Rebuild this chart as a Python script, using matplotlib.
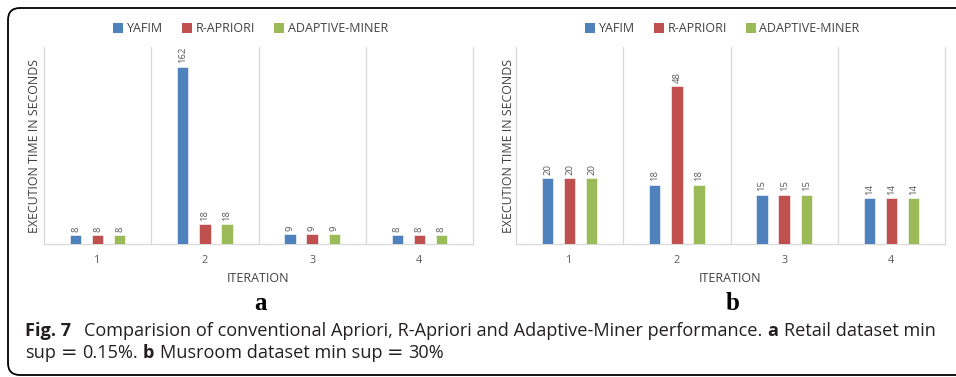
import numpy as np
import matplotlib.pyplot as plt
from matplotlib.patches import Patch, PathPatch
from matplotlib.path import Path

# ── Data ──────────────────────────────────────────────────────────────────────
ITERATIONS = ["1", "2", "3", "4"]
SERIES     = ["YAFIM", "R-APRIORI", "ADAPTIVE-MINER"]

retail_yafim    = [8, 162, 9, 8]
retail_rapriori = [8, 18, 9, 8]
retail_adaptive = [8, 18, 9, 8]

mush_yafim    = [20, 18, 15, 14]
mush_rapriori = [20, 48, 15, 14]
mush_adaptive = [20, 18, 15, 14]

# ── Styling ───────────────────────────────────────────────────────────────────
COLORS   = ["#4f81bd", "#c0504d", "#9bbb59"]
GRID     = "#d9d9d9"
TXT      = "#595959"
CAPTION  = "#231f20"
FONT     = "Open Sans"
W, H     = 956, 377

plt.rcParams["font.family"] = [FONT, "DejaVu Sans"]

fig = plt.figure(figsize=(W / 100, H / 100), dpi=100)
fig.patch.set_facecolor("white")


def draw_panel(left_px, values, ymax, letter, ylab_x):
    # axes box in pixels: 429 wide, from y=47 to y=244 (top-down)
    ax = fig.add_axes([left_px / W, (H - 244) / H, 429 / W, 197 / H])
    x = np.arange(len(ITERATIONS))
    width, step = 0.105, 0.206
    for i, (vals, col) in enumerate(zip(values, COLORS)):
        bars = ax.bar(x + (i - 1) * step, vals, width=width, color=col,
                      edgecolor="white", linewidth=0.4, zorder=3)
        for b, v in zip(bars, vals):
            ax.annotate(f"{v}", (b.get_x() + b.get_width() / 2, b.get_height()),
                        xytext=(0, 2.5), textcoords="offset points",
                        rotation=90, ha="center", va="bottom",
                        fontsize=6.8, color=TXT)
    ax.set_xlim(-0.5, len(ITERATIONS) - 0.5)
    ax.set_ylim(0, ymax)
    for g in np.arange(-0.5, len(ITERATIONS), 1.0):
        ax.axvline(g, color=GRID, linewidth=0.9, zorder=1, clip_on=False)
    for s in ["top", "left", "right"]:
        ax.spines[s].set_visible(False)
    ax.spines["bottom"].set_color(GRID)
    ax.spines["bottom"].set_linewidth(0.9)
    ax.set_yticks([])
    ax.set_xticks(x)
    ax.set_xticklabels(ITERATIONS)
    ax.tick_params(axis="x", length=0, pad=8, labelsize=7.8, labelcolor=TXT)
    ax.set_facecolor("none")

    cx = (left_px + 214.5) / W
    fig.text(cx, 1 - 282 / H, "ITERATION", ha="center", va="baseline",
             fontsize=9, color="#404040")
    fig.text(ylab_x / W, 1 - 146 / H, "EXECUTION TIME IN SECONDS",
             rotation=90, ha="center", va="center", fontsize=8.9, color="#404040")
    fig.text(cx + 2 / W, 1 - 310 / H, letter, ha="center", va="baseline",
             fontsize=18, fontweight="bold", family="Liberation Serif", color="black")

    handles = [Patch(facecolor=c, edgecolor="none") for c in COLORS]
    fig.legend(handles, SERIES, loc="center", bbox_to_anchor=(cx - 8 / W, 1 - 29 / H),
               ncol=3, frameon=False, fontsize=9.0, handlelength=0.8,
               handleheight=0.8, handletextpad=0.3, columnspacing=1.5,
               labelcolor="#404040")
    return ax


draw_panel(44, [retail_yafim, retail_rapriori, retail_adaptive], 180, "a", 35)
draw_panel(516, [mush_yafim, mush_rapriori, mush_adaptive], 60, "b", 508)

# ── Rounded frame, open on the right (source figure is cropped there) ────────
L, T, B, R = 8, 8, 375, 12          # left, top, bottom (image px), corner radius
verts = [(W, T), (L + R, T), (L, T), (L, T + R), (L, B - R),
         (L, B), (L + R, B), (W, B)]
codes = [Path.MOVETO, Path.LINETO, Path.CURVE3, Path.CURVE3, Path.LINETO,
         Path.CURVE3, Path.CURVE3, Path.LINETO]
verts = [(vx / W, 1 - vy / H) for vx, vy in verts]
fig.patches.append(PathPatch(Path(verts, codes), transform=fig.transFigure,
                             facecolor="none", edgecolor="black", linewidth=1.3,
                             fill=False, figure=fig))

# ── Caption with mixed bold / regular runs ───────────────────────────────────
renderer = fig.canvas.get_renderer()
CAP_SIZE = 13.1


def caption_line(y_px, runs):
    x = 25
    for txt, bold, gap, *extra in runs:
        kw = extra[0] if extra else {}
        t = fig.text(x / W, 1 - y_px / H, txt, ha="left", va="baseline",
                     fontsize=kw.get("size", CAP_SIZE), color=CAPTION,
                     fontweight="bold" if bold else "normal",
                     family=kw.get("family", [FONT, "DejaVu Sans"]))
        x += t.get_window_extent(renderer).width + gap


EQ = {"size": 14, "family": "DejaVu Sans"}
caption_line(336, [("Fig. 7", True, 13),
                   ("Comparision of conventional Apriori, R-Apriori and Adaptive-Miner performance.", False, 5),
                   ("a", True, 5),
                   ("Retail dataset min", False, 0)])
caption_line(358, [("sup", False, 5), ("=", False, 5, EQ),
                   ("0.15%.", False, 5),
                   ("b", True, 5),
                   ("Musroom dataset min sup", False, 5), ("=", False, 5, EQ),
                   ("30%", False, 0)])

fig.savefig("out.png", dpi=100, facecolor="white")
